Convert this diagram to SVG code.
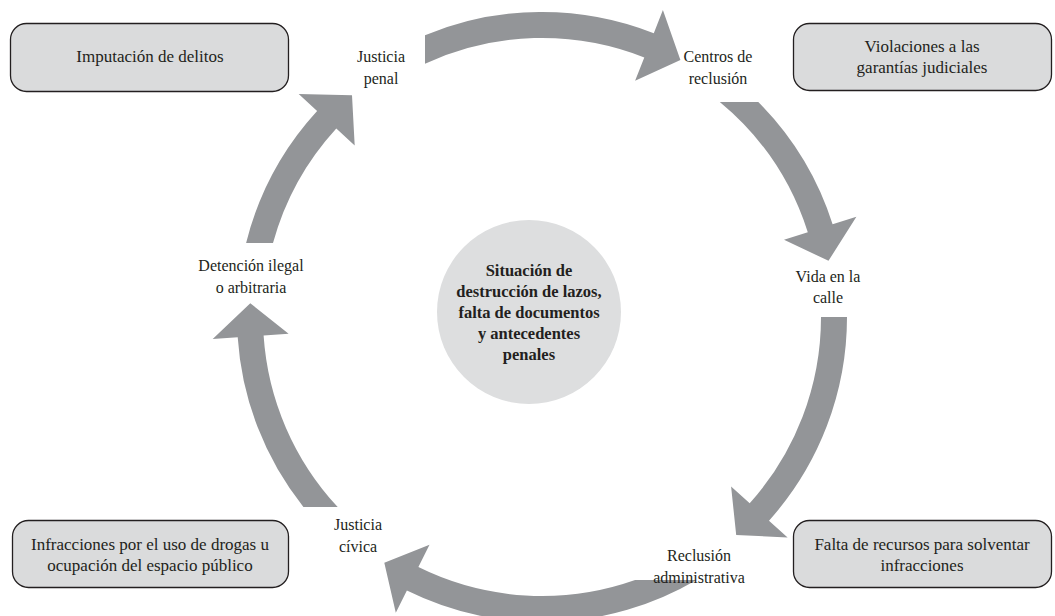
<svg xmlns="http://www.w3.org/2000/svg" width="1055" height="616" viewBox="0 0 1055 616">
<style>
.box{fill:#dadbdc;stroke:#231f20;stroke-width:1.3}
.arr{fill:#939598}
.t{font-family:'Liberation Serif','Times New Roman',serif;font-size:16px;fill:#231f20;text-anchor:middle}
.bx{font-size:17px}
.b{font-weight:bold;font-size:16.5px}
</style>
<rect width="1055" height="616" fill="#ffffff"/>
<g id="connectors">
<path class="arr" d="M425,35.3 A305,305 0 0 1 653.8,33.2 L662.9,10 L680.4,59.9 L635.1,80.7 L644.3,57.4 A279,279 0 0 0 425,63.7 Z"/>
<path class="arr" d="M719.8,102 L758.3,102 A305,305 0 0 1 832.6,224.3 L856.4,216.7 L828.5,260.8 L784,239.8 L807.8,232.2 A279,279 0 0 0 719.8,102 Z"/>
<path class="arr" d="M821,317 L847,317 A305,305 0 0 1 769,520.7 L787.6,537.4 L736.2,535 L731.1,486.6 L749.7,503.3 A279,279 0 0 0 821,317 Z"/>
<path class="arr" d="M635.1,580 L696.5,580 A305,305 0 0 1 406.9,590.4 L395.8,612.8 L384.3,562.7 L429.5,544.7 L418.4,567.1 A279,279 0 0 0 635.1,580 Z"/>
<path class="arr" d="M337.7,507 L303.4,507 A305,305 0 0 1 237.7,337.2 L212.7,338.9 L250.3,303.2 L288.6,333.8 L263.6,335.5 A279,279 0 0 0 337.7,507 Z"/>
<path class="arr" d="M273,243 L246.1,243 A305,305 0 0 1 317.1,110.9 L298.7,94.1 L352,95.3 L354.7,145.4 L336.3,128.5 A279,279 0 0 0 273,243 Z"/>
</g>
<g id="center">
<circle cx="529" cy="312" r="92" fill="#dddedf"/>
<text class="t b" x="529" y="276">Situación de</text>
<text class="t b" x="529" y="297">destrucción de lazos,</text>
<text class="t b" x="529" y="318">falta de documentos</text>
<text class="t b" x="529" y="339">y antecedentes</text>
<text class="t b" x="529" y="360">penales</text>
</g>
<g id="box-imputacion">
<rect class="box" x="10.5" y="23.5" width="278" height="68" rx="16"/>
<text class="t bx" x="150" y="62">Imputación de delitos</text>
</g>
<g id="box-violaciones">
<rect class="box" x="793.5" y="23.5" width="258" height="67" rx="16"/>
<text class="t bx" x="922" y="52">Violaciones a las</text>
<text class="t bx" x="922" y="73">garantías judiciales</text>
</g>
<g id="box-infracciones">
<rect class="box" x="12.5" y="520.5" width="276" height="67" rx="16"/>
<text class="t bx" x="150" y="550">Infracciones por el uso de drogas u</text>
<text class="t bx" x="150" y="571">ocupación del espacio público</text>
</g>
<g id="box-falta">
<rect class="box" x="793.5" y="520.5" width="258" height="67" rx="16"/>
<text class="t bx" x="922" y="550">Falta de recursos para solventar</text>
<text class="t bx" x="922" y="571">infracciones</text>
</g>
<g id="lbl-justicia-penal">
<text class="t" x="381" y="62">Justicia</text>
<text class="t" x="381" y="84">penal</text>
</g>
<g id="lbl-centros">
<text class="t" x="718" y="62">Centros de</text>
<text class="t" x="718" y="84">reclusión</text>
</g>
<g id="lbl-vida">
<text class="t" x="828" y="282">Vida en la</text>
<text class="t" x="828" y="303">calle</text>
</g>
<g id="lbl-reclusion">
<text class="t" x="699" y="561">Reclusión</text>
<text class="t" x="699" y="583">administrativa</text>
</g>
<g id="lbl-justicia-civica">
<text class="t" x="358" y="530">Justicia</text>
<text class="t" x="358" y="552">cívica</text>
</g>
<g id="lbl-detencion">
<text class="t" x="251" y="271">Detención ilegal</text>
<text class="t" x="251" y="293">o arbitraria</text>
</g>
</svg>
